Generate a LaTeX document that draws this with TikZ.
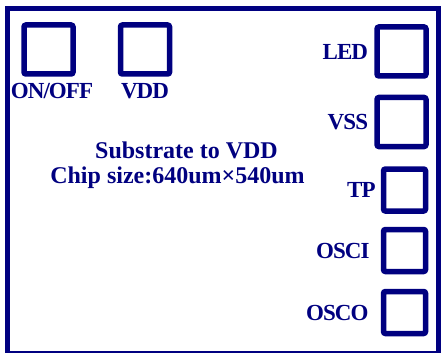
\documentclass[tikz,border=0pt]{standalone}
\usepackage{fontspec}
\setmainfont{Liberation Serif}
\usetikzlibrary{positioning}
\definecolor{chipblue}{RGB}{0,0,128}

\begin{document}
\begin{tikzpicture}[x=1pt, y=-1pt, node distance=6pt,
    pad/.style={rectangle, rounded corners=2pt, draw=chipblue, line width=5.5pt, inner sep=0pt, minimum width=#1, minimum height=#1},
    padlabel/.style={inner sep=0pt, text=chipblue, font=\fontsize{23}{25}\selectfont\bfseries\addfontfeature{LetterSpace=-4}},
    info/.style={inner sep=0pt, text=chipblue, anchor=base, font=\fontsize{24}{25}\selectfont\bfseries}]
    \useasboundingbox (0,0) rectangle (442,353);
    % chip outline
    \draw[chipblue, line width=5pt] (7.5,8.5) rectangle (438.5,353.5);
    % pads on top
    \node (onoff) [pad=49pt] at (48.5,49.5) {};
    \node (vdd) [pad=49pt] at (145,49.5) {};
    \node (onofflbl) [padlabel, below=6pt of onoff, xshift=3.5pt] {ON/OFF};
    \node (vddlbl) [padlabel, below=6pt of vdd] {VDD};
    % pads on the right
    \node (led) [pad=49pt] at (401.5,51.5) {};
    \node (vss) [pad=49pt] at (401.5,122) {};
    \node (tp) [pad=42pt] at (404.5,190) {};
    \node (osci) [pad=42pt] at (404.5,250.5) {};
    \node (osco) [pad=42pt] at (404.5,312.5) {};
    \node (ledlbl) [padlabel, left=6pt of led] {LED};
    \node (vsslbl) [padlabel, left=6pt of vss] {VSS};
    \node (tplbl) [padlabel, left=5pt of tp] {TP};
    \node (oscilbl) [padlabel, left=11pt of osci] {OSCI};
    \node (oscolbl) [padlabel, left=12pt of osco] {OSCO};
    % chip info
    \node (substrate) [info] at (186.5,158) {Substrate to VDD};
    \node (chipsize) [info] at (177.5,183) {Chip size:640um×540um};
\end{tikzpicture}
\end{document}
